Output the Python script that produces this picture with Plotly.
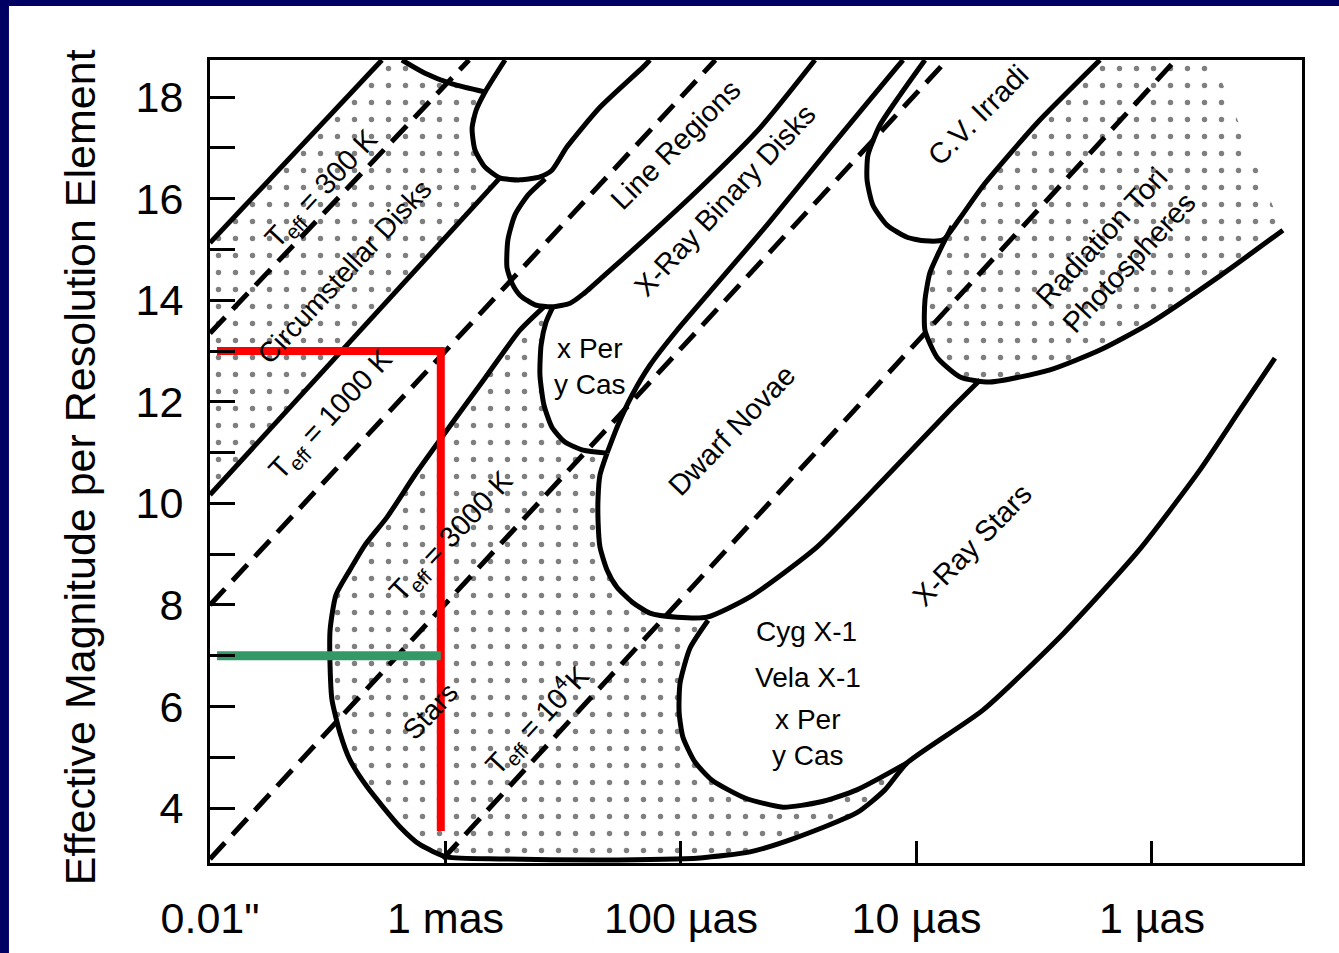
import plotly.graph_objects as go

# ---------------- data (x: decades finer than 0.01", y: magnitude) ----------------
tick_vals_x = [0, 1, 2, 3, 4]
tick_text_x = ['0.01"', "1 mas", "100 \u00b5as", "10 \u00b5as", "1 \u00b5as"]
tick_vals_y = list(range(4, 19))
tick_text_y = [str(v) if v % 2 == 0 else "" for v in tick_vals_y]

# T_eff lines (dashed), endpoints
t300_x, t300_y = [0.0, 1.10], [13.35, 18.73]
t1000_x, t1000_y = [0.0, 2.146], [8.0, 18.73]
t3000_x, t3000_y = [0.0, 3.13], [3.0, 18.73]
t1e4_x, t1e4_y = [0.989, 4.10], [3.0, 18.73]

# straight solid boundaries of the circumstellar band
s1_x, s1_y = [0.0, 0.73], [15.13, 18.73]
s2_x, s2_y = [0.0, 1.231], [10.17, 16.41]

# small arc at top
arc_x = [0.815, 0.913, 1.028, 1.168]
arc_y = [18.73, 18.47, 18.26, 18.10]

# first lobe (top band)
lobe1_x = [1.253, 1.168, 1.130, 1.113, 1.125, 1.168, 1.231, 1.316, 1.401, 1.452, 1.516, 1.656, 1.839, 1.868]
lobe1_y = [18.73, 18.10, 17.74, 17.39, 16.96, 16.62, 16.41, 16.37, 16.43, 16.56, 17.02, 17.80, 18.59, 18.73]

# Line Regions lobe
lobe2_x = [1.423, 1.350, 1.295, 1.265, 1.261, 1.282, 1.316, 1.380, 1.452, 1.529, 1.584, 1.677, 1.796, 2.081, 2.335, 2.569]
lobe2_y = [16.39, 16.07, 15.68, 15.19, 14.65, 14.34, 14.10, 13.91, 13.87, 13.94, 14.12, 14.50, 14.99, 16.21, 17.39, 18.73]

# X-ray binary disks / Dwarf Novae boundary
la_x = [1.686, 1.732, 1.792, 1.868, 1.983, 2.166, 2.365, 2.633, 2.917, 2.943]
la_y = [10.99, 11.54, 12.13, 12.72, 13.41, 14.40, 15.48, 17.00, 18.59, 18.73]

# x Per / y Cas lobe (left side)
xper_x = [1.456, 1.427, 1.406, 1.401, 1.418, 1.452, 1.507, 1.584, 1.686]
xper_y = [13.87, 13.57, 13.12, 12.53, 11.94, 11.50, 11.21, 11.05, 10.99]

# Dwarf Novae lobe
dn_x = [1.686, 1.656, 1.648, 1.648, 1.656, 1.686, 1.728, 1.792, 1.868, 1.983, 2.110, 2.293, 2.577, 2.858, 3.142, 3.270]
dn_y = [10.99, 10.56, 10.13, 9.63, 9.14, 8.69, 8.35, 8.06, 7.84, 7.76, 7.76, 8.16, 9.14, 10.46, 11.84, 12.43]

# C.V. Irradiated lobe
cv_x = [3.036, 2.930, 2.845, 2.794, 2.790, 2.815, 2.875, 2.960, 3.036, 3.113, 3.185, 3.282, 3.512, 3.779]
cv_y = [18.73, 18.04, 17.45, 16.86, 16.37, 15.87, 15.48, 15.24, 15.17, 15.19, 15.62, 16.25, 17.49, 18.73]

# Radiation Tori / Photospheres lobe
rad_x = [3.151, 3.100, 3.057, 3.036, 3.036, 3.087, 3.185, 3.312, 3.567, 3.779, 3.992, 4.289, 4.556]
rad_y = [15.46, 14.99, 14.54, 14.00, 13.41, 12.88, 12.49, 12.39, 12.63, 13.02, 13.55, 14.48, 15.38]
rad_edge_x = [4.556, 4.467, 4.259]
rad_edge_y = [15.38, 16.37, 18.73]

# Stars outer boundary, bottom run and X-ray stars outer line
stars_x = [1.420, 1.316, 1.168, 1.006, 0.870, 0.752, 0.658, 0.594, 0.535, 0.510, 0.510, 0.518, 0.552, 0.594, 0.667, 0.807, 0.892, 1.006]
stars_y = [13.88, 13.41, 12.47, 11.44, 10.56, 9.73, 9.18, 8.69, 8.20, 7.51, 6.78, 6.13, 5.48, 4.95, 4.42, 3.63, 3.28, 3.04]
bottom_x = [1.231, 1.656, 2.081, 2.293, 2.484, 2.747, 2.866, 2.960]
bottom_y = [3.00, 2.98, 3.02, 3.14, 3.41, 3.91, 4.36, 4.89]
xrs_x = [3.282, 3.626, 3.945, 4.204, 4.374, 4.522]
xrs_y = [5.93, 7.45, 9.08, 10.66, 11.84, 12.86]

# Cyg X-1 lobe
cyg_x = [2.115, 2.038, 1.996, 1.992, 2.008, 2.059, 2.132, 2.272, 2.433, 2.590, 2.747, 2.960]
cyg_y = [7.70, 7.15, 6.46, 5.89, 5.40, 4.91, 4.55, 4.20, 4.02, 4.12, 4.36, 4.89]

# overlay lines
red_x, red_y = [0.03, 0.98, 0.98], [13.0, 13.0, 3.55]
green_x, green_y = [0.03, 0.98], [7.0, 7.0]

labels = [
    ("T<sub>eff</sub> = 300 K", 0.476, 16.17, -47, 29),
    ("Circumstellar Disks", 0.573, 14.56, -47, 28),
    ("T<sub>eff</sub> = 1000 K", 0.518, 11.74, -47, 29),
    ("T<sub>eff</sub> = 3000 K", 1.030, 9.33, -47, 29),
    ("Stars", 0.935, 5.90, -47, 28),
    ("T<sub>eff</sub> = 10<sup>4</sup>K", 1.389, 5.74, -47, 29),
    ("Line Regions", 1.975, 17.06, -45, 29),
    ("X-Ray Binary Disks", 2.187, 15.97, -47, 29),
    ("Dwarf Novae", 2.217, 11.44, -46, 29),
    ("C.V. Irradi", 3.261, 17.65, -45, 29),
    ("Radiation Tori<br>Photospheres", 3.843, 14.99, -47, 29),
    ("X-Ray Stars", 3.236, 9.18, -46, 29),
    ("x Per<br>y Cas", 1.614, 12.70, 0, 28),
    ("Cyg X-1", 2.531, 7.47, 0, 28),
    ("Vela X-1", 2.539, 6.58, 0, 28),
    ("x Per<br>y Cas", 2.539, 5.40, 0, 28),
]

FONT = "Liberation Sans, Arial, Helvetica, sans-serif"
fig = go.Figure()

pattern = dict(shape=".", size=17, solidity=0.08, fgcolor="black", bgcolor="white")


def fill(xs, ys):
    fig.add_trace(go.Scatter(x=xs, y=ys, mode="lines", fill="toself", fillcolor="white",
                             fillpattern=pattern, line=dict(width=0), hoverinfo="skip",
                             showlegend=False))


# stippled regions
circ_fx = s1_x + arc_x + lobe1_x[1:7] + s2_x[::-1]
circ_fy = s1_y + arc_y + lobe1_y[1:7] + s2_y[::-1]
fill(circ_fx, circ_fy)

stars_fx = stars_x + bottom_x + cyg_x[::-1] + dn_x[:11][::-1] + xper_x[::-1]
stars_fy = stars_y + bottom_y + cyg_y[::-1] + dn_y[:11][::-1] + xper_y[::-1]
fill(stars_fx, stars_fy)

rad_fx = cv_x[10:][::-1] + rad_x + rad_edge_x
rad_fy = cv_y[10:][::-1] + rad_y + rad_edge_y
fill(rad_fx, rad_fy)


def solid(xs, ys, w=5):
    fig.add_trace(go.Scatter(x=xs, y=ys, mode="lines",
                             line=dict(color="black", width=w, shape="spline", smoothing=0.6),
                             hoverinfo="skip", showlegend=False))


def dashed(xs, ys):
    fig.add_trace(go.Scatter(x=xs, y=ys, mode="lines",
                             line=dict(color="black", width=5, dash="22px,11px"),
                             hoverinfo="skip", showlegend=False))


for xs, ys in [(s1_x, s1_y), (s2_x, s2_y), (arc_x, arc_y), (lobe1_x, lobe1_y),
               (lobe2_x, lobe2_y), (la_x, la_y), (xper_x, xper_y), (dn_x, dn_y),
               (cv_x, cv_y), (rad_x, rad_y), (cyg_x, cyg_y),
               (stars_x + bottom_x + xrs_x, stars_y + bottom_y + xrs_y)]:
    solid(xs, ys)

for xs, ys in [(t300_x, t300_y), (t1000_x, t1000_y), (t3000_x, t3000_y), (t1e4_x, t1e4_y)]:
    dashed(xs, ys)

fig.add_trace(go.Scatter(x=red_x, y=red_y, mode="lines", line=dict(color="#FF0000", width=8),
                         hoverinfo="skip", showlegend=False))
fig.add_trace(go.Scatter(x=green_x, y=green_y, mode="lines", line=dict(color="#339966", width=9),
                         hoverinfo="skip", showlegend=False))

for text, x, y, ang, size in labels:
    fig.add_annotation(x=x, y=y, text=text, showarrow=False, textangle=ang,
                       font=dict(family=FONT, size=size, color="black"),
                       xanchor="center", yanchor="middle")

fig.add_annotation(xref="paper", yref="paper", x=-0.119, y=0.493,
                   text="Effective Magnitude per Resolution Element", showarrow=False,
                   textangle=-90, font=dict(family=FONT, size=43, color="black"),
                   xanchor="center", yanchor="middle")

navy = "#000064"
fig.add_shape(type="rect", xref="paper", yref="paper", x0=-0.1923, x1=-0.1841, y0=-0.1121, y1=1.0747,
              fillcolor=navy, line=dict(width=0), layer="below")
fig.add_shape(type="rect", xref="paper", yref="paper", x0=-0.1923, x1=1.0339, y0=1.0672, y1=1.0747,
              fillcolor=navy, line=dict(width=0), layer="below")

axis_common = dict(showline=True, linecolor="black", linewidth=3, mirror=True,
                   ticks="inside", tickcolor="black", tickwidth=3, showgrid=False,
                   zeroline=False, tickfont=dict(family=FONT, size=43, color="black"))

fig.update_xaxes(range=[0, 4.637], tickmode="array", tickvals=tick_vals_x, ticktext=tick_text_x,
                 ticklen=22, ticklabelstandoff=15, **axis_common)
fig.update_yaxes(range=[2.92, 18.73], tickmode="array", tickvals=tick_vals_y, ticktext=tick_text_y,
                 ticklen=25, ticklabelstandoff=15, **axis_common)

fig.update_layout(width=1339, height=953, margin=dict(l=210, r=37, t=60, b=90),
                  paper_bgcolor="white", plot_bgcolor="white", showlegend=False)

fig.write_html("out.html", config={"displayModeBar": False},
               post_script="document.body.style.margin='0px';document.body.style.overflow='hidden';")
